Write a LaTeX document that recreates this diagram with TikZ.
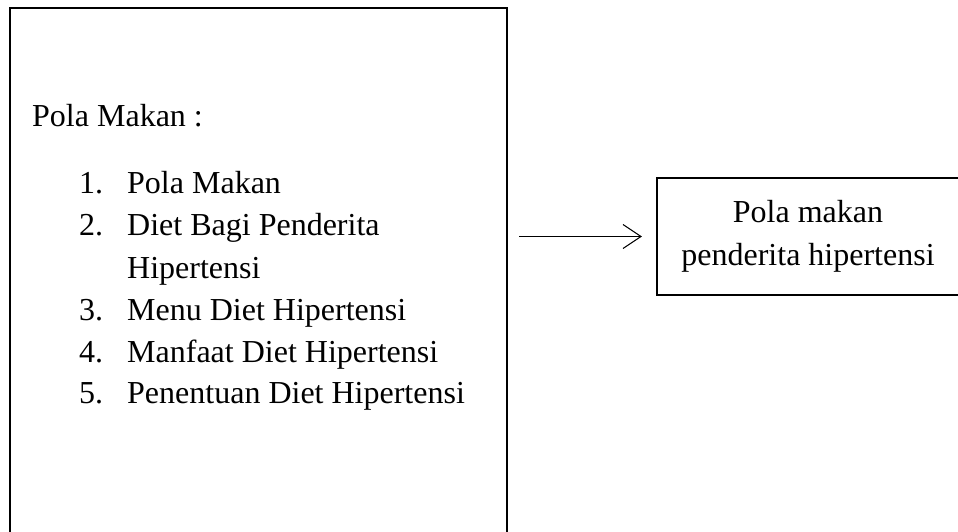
\documentclass[tikz,border=0pt]{standalone}
\usepackage{fontspec}
\setmainfont{Liberation Serif}
\usetikzlibrary{arrows.meta}

\tikzset{
	kotak/.style={draw=black, line width=2.2pt, rectangle, inner sep=0pt},
	teks/.style={anchor=base west, inner sep=0pt, font=\fontsize{32}{43}\selectfont},
	panah/.style={line width=1pt, -{Straight Barb[length=18pt,width=24pt,line width=1pt]}}
}

\begin{document}
\begin{tikzpicture}[x=1pt,y=-1pt]
		\useasboundingbox [fill=white] (0,0) rectangle (958,531);
		% kotak kiri
		\node [kotak, minimum width=497pt, minimum height=545pt] (materi) at (258.5,280.5) {};
		\node [teks] (judul) at (32,126) {Pola Makan :};
		\foreach \no/\isi/\y in {1/Pola Makan/193, 2/Diet Bagi Penderita/235, 3/Menu Diet Hipertensi/320, 4/Manfaat Diet Hipertensi/362, 5/Penentuan Diet Hipertensi/403}
		{
			\node [teks] (no\no) at (79,\y) {\no.};
			\node [teks] (isi\no) at (127,\y) {\isi};
		}
		\node [teks] (isi2b) at (127,278) {Hipertensi};
		%
		% kotak kanan
		\node [kotak, minimum width=302pt, minimum height=117pt, align=center,
			font=\fontsize{32}{43}\selectfont] (hasil) at (808,236.5) {\raisebox{-2pt}{Pola makan}\\\raisebox{-2pt}{penderita hipertensi}};
		\draw [panah, shorten <=11pt, shorten >=14pt] (materi.east |- hasil.west) -- (hasil.west);
	\end{tikzpicture}
\end{document}
